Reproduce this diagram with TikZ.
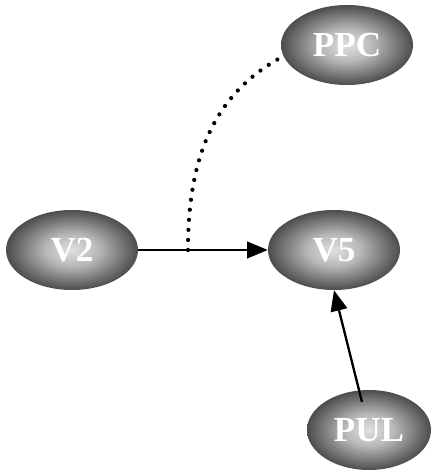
\documentclass[tikz,border=0pt]{standalone}
\usepackage{fontspec}
\setmainfont{Liberation Serif}
\usetikzlibrary{arrows.meta,shapes.geometric}

\pgfdeclareradialshading{blob}{\pgfpoint{0bp}{0bp}}{%
  color(0bp)=(black!12); color(10bp)=(black!28); color(25bp)=(black!70); color(50bp)=(black!78)}
\tikzset{
  area/.style={ellipse, shading=blob, minimum width=3.96cm, minimum height=2.4cm,
    inner sep=0pt, text=white, font=\fontsize{30}{30}\selectfont\bfseries},
  link/.style={draw, line width=1.6pt, -{Triangle[length=0.62cm,width=0.5cm]}},
  dots/.style={draw, line width=3.6pt, line cap=round, dash pattern=on 0pt off 8.6pt}
}

\begin{document}
\begin{tikzpicture}
\useasboundingbox (0,0) rectangle (13.05,14.19);
\node[area] (PPC) at (10.41,12.84) {PPC};
\node[area] (V2) at (2.16,6.69) {V2};
\node[area] (V5) at (10.02,6.69) {V5};
\node[area, minimum width=3.72cm] (PUL) at (11.07,1.29) {PUL};

\coordinate (split) at (5.64,6.69);

\path[link] (V2) -- (V5);
\path[link, line width=2pt, shorten <=0.87cm] (PUL.center) -- (V5.south);
\path[dots] (split) to[out=90,in=208] (PPC.190);
\end{tikzpicture}
\end{document}
